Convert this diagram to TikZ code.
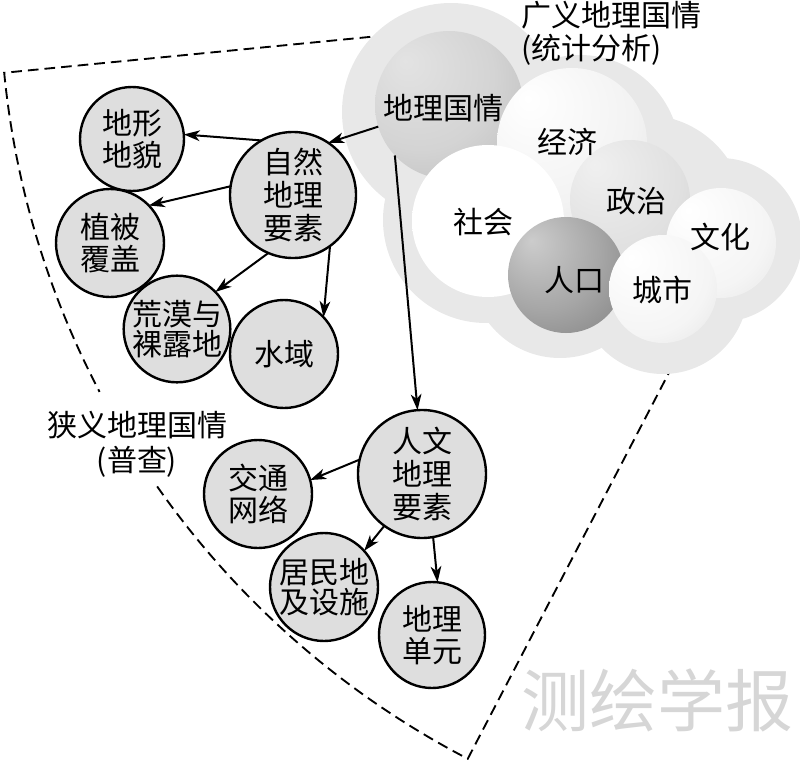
\documentclass[tikz,border=0pt]{standalone}
\usepackage{fontspec}
\setmainfont{Noto Sans CJK SC}
\usetikzlibrary{arrows.meta}
\pgfdeclareradialshading{sphGeo}{\pgfpoint{-15bp}{15bp}}{color(0bp)=(black!11); color(25bp)=(black!17); color(71bp)=(black!40)}
\pgfdeclareradialshading{sphEcon}{\pgfpoint{-15bp}{15bp}}{color(0bp)=(white); color(30bp)=(black!5); color(71bp)=(black!20)}
\pgfdeclareradialshading{sphSoc}{\pgfpoint{-10bp}{10bp}}{color(0bp)=(white); color(35bp)=(white); color(71bp)=(black!11)}
\pgfdeclareradialshading{sphPol}{\pgfpoint{-15bp}{15bp}}{color(0bp)=(black!6); color(30bp)=(black!12); color(71bp)=(black!28)}
\pgfdeclareradialshading{sphPop}{\pgfpoint{-15bp}{15bp}}{color(0bp)=(black!20); color(25bp)=(black!35); color(71bp)=(black!68)}
\pgfdeclareradialshading{sphCul}{\pgfpoint{-15bp}{15bp}}{color(0bp)=(white); color(30bp)=(black!4); color(71bp)=(black!20)}
\pgfdeclareradialshading{sphCity}{\pgfpoint{-15bp}{15bp}}{color(0bp)=(white); color(30bp)=(black!4); color(71bp)=(black!22)}
\begin{document}
\begin{tikzpicture}[x=0.75pt,y=-0.75pt,
  lobe/.style={fill=black!9, draw=none},
  sph/.style={circle, inner sep=0pt, outer sep=0pt, draw=none, minimum size={1.5pt*#1}},
  leaf/.style={circle, draw=black, line width=1.8pt, fill=black!13, inner sep=0pt, outer sep=0pt,
    minimum size={1.5pt*#1}, font=\fontsize{22.5}{24.5}\selectfont, align=center},
  tight/.style={font=\fontsize{22.5}{22.5}\selectfont},
  txt/.style={font=\fontsize{22.5}{24.5}\selectfont, align=center, inner sep=0pt},
  arr/.style={-{Stealth[length=12pt,width=8pt,inset=3.5pt]}, line width=1.5pt},
  fan/.style={dash pattern=on 8pt off 4.5pt, line width=1.4pt}]
\useasboundingbox (0,0) rectangle (800,760);

% dashed fan
\coordinate (c) at (869,-12);
\coordinate (ftop) at (420,32);
\coordinate (fright) at (686,340);
\draw[fan] (ftop) -- ([shift={(c)}]174.4:869) arc[start angle=174.4, end angle=152.3, radius=869];
\draw[fan] ([shift={(c)}]145:869) arc[start angle=145, end angle=117.5, radius=869] -- (fright);

% cloud
\fill[lobe] (451,112) circle[radius=109];
\fill[lobe] (580,155) circle[radius=100];
\fill[lobe] (645,215) circle[radius=100];
\fill[lobe] (720,240) circle[radius=82];
\fill[lobe] (486,220) circle[radius=103];
\fill[lobe] (560,268) circle[radius=90];
\fill[lobe] (663,289) circle[radius=85];

% spheres
\node[sph=74, shading=sphGeo] (geo) at (449,105) {};
\node[sph=75, shading=sphEcon] (econ) at (572,143) {};
\node[sph=60, shading=sphPol] (pol) at (630,200) {};
\node[sph=76, shading=sphSoc] (soc) at (488,221) {};
\node[sph=58, shading=sphPop] (pop) at (566,275) {};
\node[sph=55, shading=sphCul] (cul) at (721,243) {};
\node[sph=54, shading=sphCity] (city) at (663,289) {};

\node[txt] (tgeo) at (443,108) {地理国情};
\node[txt] (tecon) at (567,142) {经济};
\node[txt] (tsoc) at (483,222) {社会};
\node[txt] (tpol) at (636,201) {政治};
\node[txt] (tpop) at (574,280) {人口};
\node[txt] (tcul) at (720,237) {文化};
\node[txt] (tcity) at (662,290) {城市};

% leaves
\node[leaf=52] (dx) at (132,139) {地形\\地貌};
\node[leaf=63] (zr) at (293,195) {自然\\地理\\要素};
\node[leaf=54] (zb) at (110,243) {植被\\覆盖};
\node[leaf=53, tight] (hm) at (177,329) {荒漠与\\裸露地};
\node[leaf=54] (sy) at (284,354) {水域};
\node[leaf=64] (rw) at (422,474) {人文\\地理\\要素};
\node[leaf=54] (jt) at (258,494) {交通\\网络};
\node[leaf=54, tight] (jm) at (324,587) {居民地\\及设施};
\node[leaf=53] (dl) at (432,635) {地理\\单元};

% arrows
\draw[arr] (geo.197) -- (zr.56);
\draw[arr] (geo.223.5) -- (rw.94);
\draw[arr] (zr.120) -- (dx.5);
\draw[arr] (zr.172) -- (zb.44);
\draw[arr] (zr.247) -- (hm.44);
\draw[arr] (zr.306) -- (sy.43.5);
\draw[arr] (rw.167) -- (jt.15.5);
\draw[arr] (rw.234) -- (jm.42);
\draw[arr] (rw.280) -- (dl.84);

% labels
\node[inner sep=0pt, anchor=west, align=left, font=\fontsize{22.5}{25}\selectfont] (broad) at (521,33) {广义地理国情\\(统计分析)};
\node[inner sep=0pt, align=center, font=\fontsize{22.5}{26}\selectfont] (narrow) at (137,444) {狭义地理国情\\(普查)};
\node[inner sep=0pt, text=black!16, font=\fontsize{51}{51}\selectfont] (wm) at (657,700) {测绘学报};
\end{tikzpicture}
\end{document}
